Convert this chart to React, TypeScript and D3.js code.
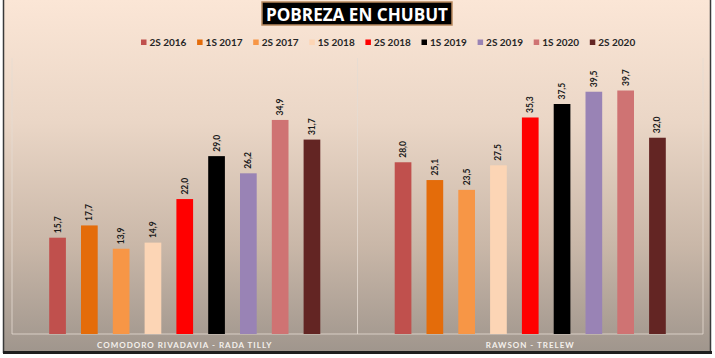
import React from "react";
import * as d3 from "d3";

const groups = ["COMODORO RIVADAVIA - RADA TILLY", "RAWSON - TRELEW"];
const series = ["2S 2016", "1S 2017", "2S 2017", "1S 2018", "2S 2018", "1S 2019", "2S 2019", "1S 2020", "2S 2020"];
const colors = ["#c0504d", "#e46c0a", "#f79646", "#fcd5b5", "#ff0000", "#000000", "#9983b5", "#cf7373", "#632523"];
const comodoroValues = [15.7, 17.7, 13.9, 14.9, 22.0, 29.0, 26.2, 34.9, 31.7];
const rawsonValues = [28.0, 25.1, 23.5, 27.5, 35.3, 37.5, 39.5, 39.7, 32.0];
const groupValues = [comodoroValues, rawsonValues];
const title = "POBREZA EN CHUBUT";

const W = 715;
const H = 358;
const FONT = "Lato, 'Open Sans', sans-serif";

export default function App() {
  const x0 = d3.scaleBand<string>().domain(groups).range([12, 703]).padding(0);
  const x1 = d3
    .scaleBand<string>()
    .domain(series)
    .range([0, x0.bandwidth()])
    .paddingInner(0.475)
    .paddingOuter(1.17);
  const y = d3.scaleLinear().domain([0, 45]).range([334, 58]);
  const fmt = (v: number) => d3.format(".1f")(v).replace(".", ",");

  const legendStart = 141;
  const legendStep = 56.1;

  return (
    <svg
      width={W}
      height={H}
      style={{ position: "absolute", left: 0, top: 0, display: "block" }}
      fontFamily={FONT}
    >
      <defs>
        <linearGradient id="bg" x1="0" y1="0" x2="0" y2="1">
          <stop offset="0%" stopColor="#fbe6d6" />
          <stop offset="35%" stopColor="#ead6c6" />
          <stop offset="70%" stopColor="#c9b7a8" />
          <stop offset="100%" stopColor="#a0968d" />
        </linearGradient>
      </defs>
      <rect x={0} y={0} width={W} height={H} fill="#ffffff" />
      <rect x={4} y={0} width={706} height={351} fill="url(#bg)" />
      {/* frame */}
      <line x1={3.5} y1={0} x2={3.5} y2={353} stroke="#3a3a3a" strokeWidth={1.5} />
      <line x1={710.5} y1={0} x2={710.5} y2={353} stroke="#3a3a3a" strokeWidth={1.5} />
      <line x1={3} y1={352.5} x2={712} y2={352.5} stroke="#1e1e1e" strokeWidth={3} />

      {/* plot gridlines */}
      {[12, 357.5, 703].map((gx, i) => (
        <line key={i} x1={gx} y1={58} x2={gx} y2={334} stroke="#e6dcd3" strokeWidth={1} opacity={0.8} />
      ))}
      <line x1={12} y1={334} x2={703} y2={334} stroke="#e6dcd3" strokeWidth={1} opacity={0.8} />

      {/* bars */}
      {groups.map((g, gi) => (
        <g key={g} transform={`translate(${x0(g)},0)`}>
          {series.map((s, si) => {
            const v = groupValues[gi][si];
            const bx = x1(s)!;
            const cx = bx + x1.bandwidth() / 2;
            return (
              <g key={s}>
                <rect x={bx} y={y(v)} width={x1.bandwidth()} height={y(0) - y(v)} fill={colors[si]} />
                <text
                  transform={`translate(${cx + 3},${y(v) - 4.5}) rotate(-90)`}
                  fontSize={8.5}
                  fontWeight="bold"
                  fill="#1a1a1a"
                  textAnchor="start"
                >
                  {fmt(v)}
                </text>
              </g>
            );
          })}
          <text
            x={x0.bandwidth() / 2}
            y={348}
            textAnchor="middle"
            fontSize={8}
            fontWeight="bold"
            fill="#f4f0ec"
            letterSpacing={1}
          >
            {g}
          </text>
        </g>
      ))}

      {/* title */}
      <rect x={262} y={2} width={190} height={23} fill="#000000" stroke="#b8895e" strokeWidth={1.5} />
      <text
        x={357}
        y={20.5}
        textAnchor="middle"
        fontSize={18}
        fontWeight="bold"
        fill="#ffffff"
        fontFamily="'Open Sans', sans-serif"
        textLength={182}
        lengthAdjust="spacingAndGlyphs"
      >
        {title}
      </text>

      {/* legend */}
      {series.map((s, i) => {
        const lx = legendStart + i * legendStep;
        return (
          <g key={s}>
            <rect x={lx} y={39.5} width={5.5} height={5.5} fill={colors[i]} />
            <text x={lx + 8.5} y={45.5} fontSize={10} fontWeight="bold" fill="#262626">
              {s}
            </text>
          </g>
        );
      })}
    </svg>
  );
}
